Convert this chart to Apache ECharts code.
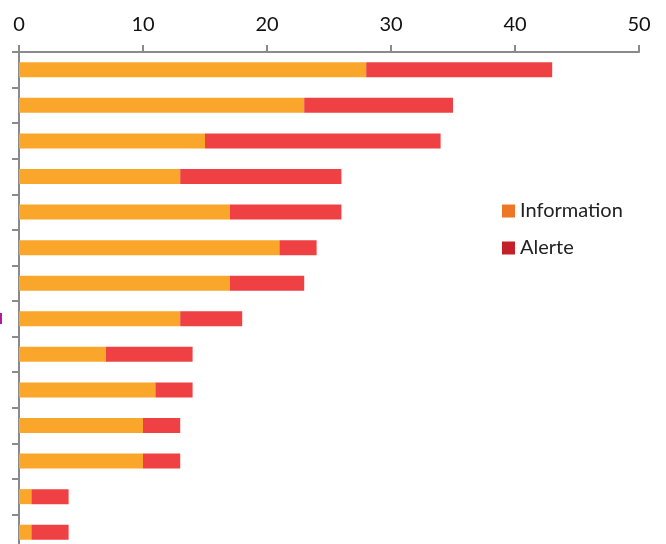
<!DOCTYPE html>
<html><head><meta charset="utf-8">
<script src="https://cdn.jsdelivr.net/npm/echarts@6/dist/echarts.min.js"></script>
<style>html,body{margin:0;padding:0;background:#fff}#c{width:666px;height:544px}</style>
</head><body><div id="c"></div>
<script>
const categories = ['C1','C2','C3','C4','C5','C6','C7','C8','C9','C10','C11','C12','C13','C14'];
const information = [28,23,15,13,17,21,17,13,7,11,10,10,1,1];
const alerte = [15,12,19,13,9,3,6,5,7,3,3,3,3,3];
const xTicks = [0,10,20,30,40,50];

const chart = echarts.init(document.getElementById('c'));
chart.setOption({
  animation:false,
  grid:{left:19,width:620,top:52,height:498,containLabel:false,outerBoundsMode:'none'},
  legend:{
    orient:'vertical', left:497, top:196,
    itemWidth:13, itemHeight:13, itemGap:17,
    icon:'rect',
    textStyle:{fontFamily:'Lato',fontSize:20,color:'#222',lineHeight:20},
    data:[{name:'Information',itemStyle:{color:'#EE7624'}},{name:'Alerte',itemStyle:{color:'#C4202A'}}]
  },
  xAxis:{
    type:'value', position:'top', min:xTicks[0], max:xTicks[xTicks.length-1], interval:10,
    axisLine:{show:true,lineStyle:{color:'#8A8A8E',width:2}},
    axisTick:{show:true,length:7,lineStyle:{color:'#8A8A8E',width:2}},
    splitLine:{show:false},
    axisLabel:{margin:17,fontFamily:'Lato',fontSize:20,color:'#111'}
  },
  yAxis:{
    type:'category', inverse:true, data:categories,
    axisLine:{show:true,lineStyle:{color:'#8A8A8E',width:2}},
    axisTick:{show:true,length:7,interval:0,lineStyle:{color:'#8A8A8E',width:2}},
    axisLabel:{interval:0,margin:16,fontFamily:'Lato',fontSize:16,fontWeight:'bold',color:'#B0179C',
      padding:[14,0,0,0],
      formatter:(v,i)=> i===7 ? 'l' : ''}
  },
  series:[
    {name:'Information',type:'bar',stack:'t',data:information,barWidth:15,itemStyle:{color:'#F9A62B'}},
    {name:'Alerte',type:'bar',stack:'t',data:alerte,barWidth:15,itemStyle:{color:'#EF4043'}}
  ]
});
</script></body></html>
